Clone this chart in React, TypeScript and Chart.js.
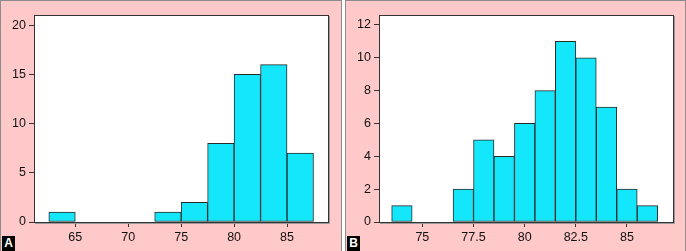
import React, { useEffect, useRef } from "react";
import { Chart, registerables } from "chart.js";
Chart.register(...registerables);

// Panel A data
const binStartsA = [62.5, 65, 67.5, 70, 72.5, 75, 77.5, 80, 82.5, 85];
const countsA = [1, 0, 0, 0, 1, 2, 8, 15, 16, 7];
const binWidthA = 2.5;
const xTicksA = [65, 70, 75, 80, 85];
const yTicksA = [0, 5, 10, 15, 20];

// Panel B data
const binStartsB = [73.5, 74.5, 75.5, 76.5, 77.5, 78.5, 79.5, 80.5, 81.5, 82.5, 83.5, 84.5, 85.5];
const countsB = [1, 0, 0, 2, 5, 4, 6, 8, 11, 10, 7, 2, 1];
const binWidthB = 1;
const xTicksB = [75, 77.5, 80, 82.5, 85];
const yTicksB = [0, 2, 4, 6, 8, 10, 12];

const FONT = "'Liberation Sans', Arial, Helvetica, sans-serif";

const framePlugin = {
  id: "frame",
  beforeDatasetsDraw(chart: any) {
    const { ctx, chartArea: a } = chart;
    ctx.save();
    ctx.fillStyle = "#ffffff";
    ctx.fillRect(a.left, a.top, a.right - a.left, a.bottom - a.top);
    ctx.restore();
  },
  afterDraw(chart: any) {
    const { ctx, chartArea: a } = chart;
    ctx.save();
    ctx.strokeStyle = "#9a9a9a";
    ctx.lineWidth = 1;
    ctx.beginPath();
    ctx.moveTo(Math.round(a.right) + 1.5, Math.round(a.top) + 1);
    ctx.lineTo(Math.round(a.right) + 1.5, Math.round(a.bottom) + 1.5);
    ctx.lineTo(Math.round(a.left) + 1, Math.round(a.bottom) + 1.5);
    ctx.stroke();
    ctx.strokeStyle = "#333333";
    ctx.strokeRect(Math.round(a.left) + 0.5, Math.round(a.top) + 0.5, Math.round(a.right - a.left), Math.round(a.bottom - a.top));
    ctx.restore();
  },
};

type PanelProps = {
  starts: number[];
  counts: number[];
  binWidth: number;
  xTicks: number[];
  yTicks: number[];
  xMin: number;
  xMax: number;
  yMax: number;
  width: number;
  left: number;
  rightPad: number;
  label: string;
};

function Panel(p: PanelProps) {
  const ref = useRef<HTMLCanvasElement | null>(null);
  useEffect(() => {
    if (!ref.current) return;
    const data = p.starts.map((s, i) => ({ x: s + p.binWidth / 2, y: p.counts[i] }));
    const chart = new Chart(ref.current, {
      type: "bar",
      data: {
        datasets: [
          {
            data,
            backgroundColor: "#14e6fc",
            borderColor: "#2a2a2a",
            borderWidth: 1,
            borderSkipped: false,
            barPercentage: 1,
            categoryPercentage: 1,
          } as any,
        ],
      },
      options: {
        responsive: false,
        animation: false,
        layout: { padding: { top: 15, right: p.rightPad, left: 0, bottom: 0 } },
        plugins: { legend: { display: false }, tooltip: { enabled: false } },
        scales: {
          x: {
            type: "linear",
            offset: false,
            min: p.xMin,
            max: p.xMax,
            afterBuildTicks: (s: any) => {
              s.ticks = p.xTicks.map((v) => ({ value: v }));
            },
            afterFit: (s: any) => {
              s.height = 28;
            },
            grid: {
              offset: false,
              drawOnChartArea: false,
              drawTicks: true,
              tickLength: 5,
              color: "#333",
            },
            border: { display: true, color: "#333" },
            ticks: {
              color: "#111",
              font: { family: FONT, size: 12.5 },
              padding: 3,
              maxRotation: 0,
              autoSkip: false,
              callback: (v: any) => String(v),
            },
          },
          y: {
            type: "linear",
            min: 0,
            max: p.yMax,
            afterBuildTicks: (s: any) => {
              s.ticks = p.yTicks.map((v) => ({ value: v }));
            },
            afterFit: (s: any) => {
              s.width = 34;
            },
            grid: {
              drawOnChartArea: false,
              drawTicks: true,
              tickLength: 5,
              color: "#333",
            },
            border: { display: true, color: "#333" },
            ticks: {
              color: "#111",
              font: { family: FONT, size: 12.5 },
              padding: 3,
              autoSkip: false,
              callback: (v: any) => String(v),
            },
          },
        },
      } as any,
      plugins: [framePlugin],
    });
    return () => chart.destroy();
  }, []);
  return (
    <div
      style={{
        position: "absolute",
        left: p.left,
        top: 0,
        width: p.width,
        height: 251,
        background: "#ffc9c9",
        boxSizing: "border-box",
        border: "1px solid #8c8c8c",
        borderBottom: "none",
        overflow: "hidden",
      }}
    >
      <canvas ref={ref} width={p.width - 2} height={250} style={{ position: "absolute", left: -1, top: -1 }} />
      <div
        style={{
          position: "absolute",
          left: 1,
          bottom: 0,
          width: 13,
          height: 15,
          background: "#000",
          color: "#fff",
          fontFamily: FONT,
          fontWeight: "bold",
          fontSize: 12,
          lineHeight: "15px",
          textAlign: "center",
        }}
      >
        {p.label}
      </div>
    </div>
  );
}

export default function App() {
  useEffect(() => {
    document.body.style.margin = "0";
  }, []);
  return (
    <div style={{ position: "fixed", left: 0, top: 0, width: 686, height: 251, background: "#fff" }}>
      <Panel
        starts={binStartsA}
        counts={countsA}
        binWidth={binWidthA}
        xTicks={xTicksA}
        yTicks={yTicksA}
        xMin={61.1}
        xMax={88.87}
        yMax={21.04}
        width={342}
        left={0}
        rightPad={342 - 2 - 328}
        label="A"
      />
      <Panel
        starts={binStartsB}
        counts={countsB}
        binWidth={binWidthB}
        xTicks={xTicksB}
        yTicks={yTicksB}
        xMin={72.88}
        xMax={87.25}
        yMax={12.6}
        width={341}
        left={345}
        rightPad={341 - 2 - 328}
        label="B"
      />
    </div>
  );
}
